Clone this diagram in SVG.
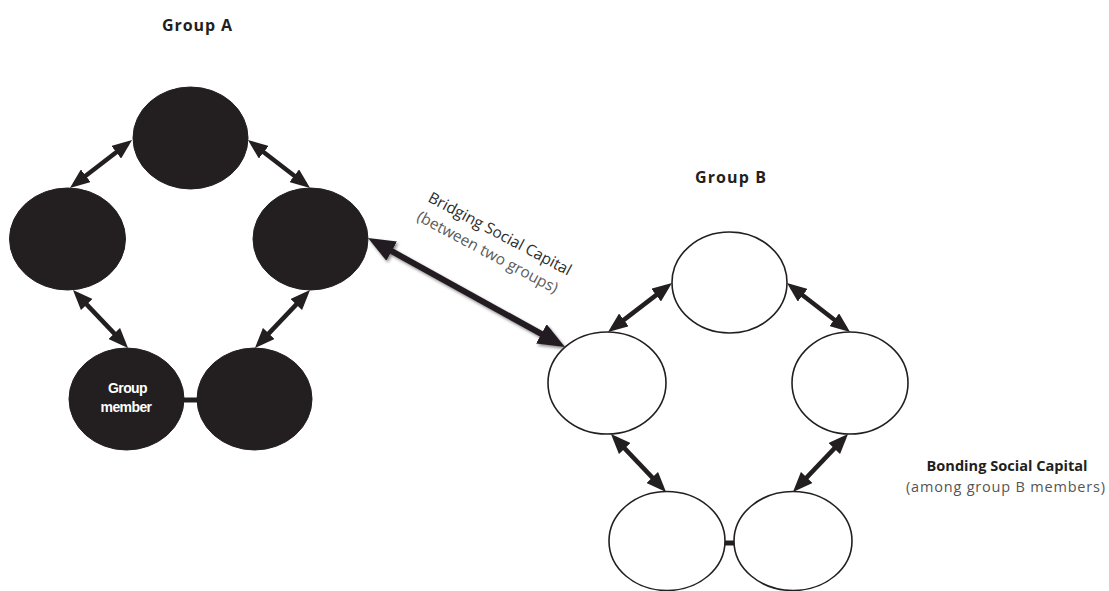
<svg xmlns="http://www.w3.org/2000/svg" width="1109" height="591" viewBox="0 0 1109 591">
  <style>
    .dark { fill: #231f20; stroke: #231f20; stroke-width: 1; }
    .light { fill: #ffffff; stroke: #231f20; stroke-width: 1.6; }
    .arr { stroke: #231f20; stroke-width: 4.5; fill: none; marker-start: url(#ah); marker-end: url(#ah); }
    .bridge { stroke: #231f20; stroke-width: 6; fill: none; marker-start: url(#ahb); marker-end: url(#ahb); }
    .bar { stroke: #231f20; stroke-width: 5; }
    .title { font-family: "Open Sans", "Liberation Sans", sans-serif; font-weight: 700; font-size: 16px; fill: #231f20; }
    .member { font-family: "Liberation Sans", Arial, sans-serif; font-weight: 700; font-size: 14px; fill: #ffffff; text-anchor: middle; letter-spacing: -0.6px; }
    .lbl { font-family: "Open Sans", "Liberation Sans", sans-serif; font-size: 15.5px; }
  </style>
  <defs>
    <marker id="ah" markerUnits="userSpaceOnUse" viewBox="0 0 20 16" markerWidth="20" markerHeight="16" refX="14" refY="8" orient="auto-start-reverse">
      <path d="M0,0 L20,8 L0,16 z" fill="#231f20"/>
    </marker>
    <marker id="ahb" markerUnits="userSpaceOnUse" viewBox="0 0 27 22" markerWidth="27" markerHeight="22" refX="18" refY="11" orient="auto-start-reverse">
      <path d="M0,0 L27,11 L0,22 z" fill="#231f20"/>
    </marker>
    <filter id="shadow" x="-20%" y="-20%" width="140%" height="140%">
      <feDropShadow dx="1.5" dy="2" stdDeviation="1.5" flood-color="#000" flood-opacity="0.45"/>
    </filter>
  </defs>

  <text class="title" x="162" y="31" textLength="70">Group A</text>
  <text class="title" x="695" y="183" textLength="71">Group B</text>

  <g id="connectors">
    <!-- Group A -->
    <line class="arr" x1="127.3" y1="143.7" x2="74.7" y2="184.3"/>
    <line class="arr" x1="252.7" y1="143.7" x2="305.3" y2="184.3"/>
    <line class="arr" x1="77.1" y1="294.4" x2="123.9" y2="343.6"/>
    <line class="arr" x1="305.9" y1="294.4" x2="259.1" y2="343.6"/>
    <line class="bar" x1="183" y1="400" x2="198" y2="400"/>
    <!-- Group B -->
    <line class="arr" x1="667.2" y1="286.6" x2="612.8" y2="328.4"/>
    <line class="arr" x1="791.7" y1="286.7" x2="845.3" y2="328.3"/>
    <line class="arr" x1="615.1" y1="438.4" x2="661.9" y2="487.6"/>
    <line class="arr" x1="843.9" y1="438.4" x2="797.1" y2="487.6"/>
    <line class="bar" x1="724" y1="543" x2="735" y2="543"/>
    <!-- Bridging -->
    <line class="bridge" filter="url(#shadow)" x1="375.9" y1="242.4" x2="557.1" y2="342.6"/>
  </g>

  <g id="a-top"><ellipse class="dark" cx="190.5" cy="138" rx="57.5" ry="51"/></g>
  <g id="a-left"><ellipse class="dark" cx="67.5" cy="239" rx="58" ry="51"/></g>
  <g id="a-right"><ellipse class="dark" cx="310.5" cy="239" rx="57.5" ry="51"/></g>
  <g id="a-bottom-left">
    <ellipse class="dark" cx="126.5" cy="399" rx="57.5" ry="51"/>
    <text class="member" x="127.5" y="393">Group</text>
    <text class="member" x="126" y="412">member</text>
  </g>
  <g id="a-bottom-right"><ellipse class="dark" cx="254.5" cy="399" rx="57.5" ry="51"/></g>

  <g id="b-top"><ellipse class="light" cx="729.5" cy="282.5" rx="57.5" ry="50.5"/></g>
  <g id="b-left"><ellipse class="light" cx="607" cy="383" rx="59" ry="51"/></g>
  <g id="b-right"><ellipse class="light" cx="850" cy="383" rx="58" ry="51"/></g>
  <g id="b-bottom-left"><ellipse class="light" cx="667" cy="541" rx="58" ry="49.5"/></g>
  <g id="b-bottom-right"><ellipse class="light" cx="793" cy="541" rx="59" ry="49.5"/></g>

  <g id="bridging-label" transform="translate(427,201) rotate(28)">
    <text class="lbl" x="0" y="0" fill="#2e2e2e">Bridging Social Capital</text>
    <text class="lbl" x="-1" y="22" fill="#5a5a5a">(between two groups)</text>
  </g>

  <g id="bonding-label">
    <text x="1007" y="471" text-anchor="middle" textLength="161" lengthAdjust="spacingAndGlyphs" font-family="'Open Sans', 'Liberation Sans', sans-serif" font-weight="700" font-size="13.5" fill="#231f20">Bonding Social Capital</text>
    <text x="1005.5" y="492" text-anchor="middle" textLength="199" font-family="'Open Sans', 'Liberation Sans', sans-serif" font-size="14.5" fill="#555555">(among group B members)</text>
  </g>
</svg>
